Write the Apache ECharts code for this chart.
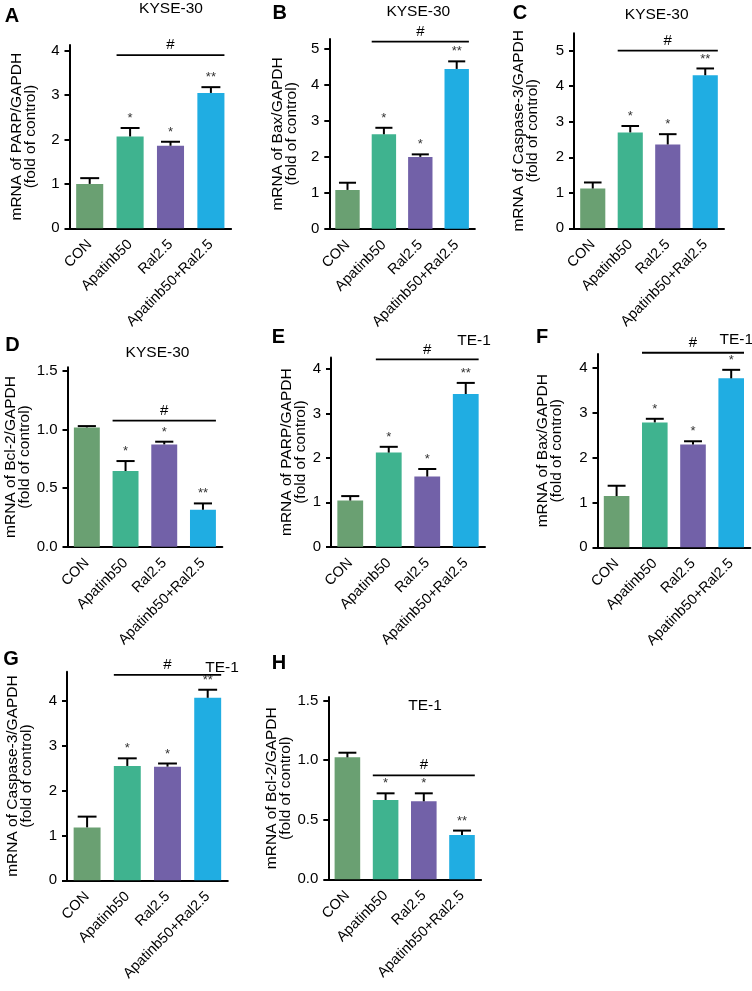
<!DOCTYPE html>
<html>
<head>
<meta charset="utf-8">
<script src="https://cdn.jsdelivr.net/npm/echarts@6/dist/echarts.min.js"></script>
<style>
html,body{margin:0;padding:0;background:#fff;}
#chart{width:752px;height:991px;}
</style>
</head>
<body>
<div id="chart"></div>
<script>
// ---------- DATA ----------
const categories = ['CON', 'Apatinb50', 'Ral2.5', 'Apatinb50+Ral2.5'];

const parpKyse = [1.00, 2.07, 1.86, 3.05];
const parpKyseErr = [0.13, 0.19, 0.09, 0.13];
const baxKyse = [1.08, 2.63, 2.00, 4.45];
const baxKyseErr = [0.20, 0.18, 0.07, 0.21];
const casKyse = [1.12, 2.70, 2.36, 4.31];
const casKyseErr = [0.17, 0.18, 0.29, 0.19];
const bclKyse = [1.017, 0.645, 0.872, 0.315];
const bclKyseErr = [0.011, 0.085, 0.023, 0.054];

const parpTe = [1.04, 2.12, 1.58, 3.44];
const parpTeErr = [0.10, 0.13, 0.17, 0.25];
const baxTe = [1.14, 2.78, 2.29, 3.76];
const baxTeErr = [0.23, 0.08, 0.07, 0.19];
const casTe = [1.18, 2.55, 2.535, 4.07];
const casTeErr = [0.24, 0.17, 0.07, 0.18];
const bclTe = [1.024, 0.666, 0.655, 0.372];
const bclTeErr = [0.039, 0.056, 0.067, 0.037];

const starsDefault = ['', '*', '*', '**'];
const starsF = ['', '*', '*', '*'];

// y level of the "#" comparison bar, per panel (data units)
const hashLevels = [3.90, 5.21, 5.00, 1.074, 4.22, 4.33, 4.58, 0.873];

const yTicksA = [0, 1, 2, 3, 4];
const yTicksB = [0, 1, 2, 3, 4, 5];
const yTicksBcl = [0, 0.5, 1.0, 1.5];

const yNames = [
  'mRNA of PARP/GAPDH\n(fold of control)',
  'mRNA of Bax/GAPDH\n(fold of control)',
  'mRNA of Caspase-3/GAPDH\n(fold of control)',
  'mRNA of Bcl-2/GAPDH\n(fold of control)',
  'mRNA of PARP/GAPDH\n(fold of control)',
  'mRNA of Bax/GAPDH\n(fold of control)',
  'mRNA of Caspase-3/GAPDH\n(fold of control)',
  'mRNA of Bcl-2/GAPDH\n(fold of control)'
];
const panelLetters = ['A', 'B', 'C', 'D', 'E', 'F', 'G', 'H'];
const cellTitles = ['KYSE-30', 'KYSE-30', 'KYSE-30', 'KYSE-30', 'TE-1', 'TE-1', 'TE-1', 'TE-1'];

const values = [parpKyse, baxKyse, casKyse, bclKyse, parpTe, baxTe, casTe, bclTe];
const errors = [parpKyseErr, baxKyseErr, casKyseErr, bclKyseErr, parpTeErr, baxTeErr, casTeErr, bclTeErr];
const stars = [starsDefault, starsDefault, starsDefault, starsDefault, starsDefault, starsF, starsDefault, starsDefault];
const ticks = [yTicksA, yTicksB, yTicksB, yTicksBcl, yTicksA, yTicksA, yTicksA, yTicksBcl];

// ---------- STYLE / LAYOUT ----------
const barColors = ['#6aa072', '#3fb38f', '#7261a8', '#20ade2'];
const FONT = '"Liberation Sans", Arial, Helvetica, sans-serif';
const layout = [
  {left: 69.5, top: 45.0, width: 161.6, height: 183.3, max: 4.13, step: 1, gap: 32, letter: [12, 16.5], title: [171, 8.5]},
  {left: 329.3, top: 39.1, width: 145.6, height: 189.6, max: 5.28, step: 1, gap: 31, letter: [279.7, 13.5], title: [418.3, 11.3]},
  {left: 574, top: 33.3, width: 150, height: 195.0, max: 5.49, step: 1, gap: 34, letter: [520, 13.3], title: [656.7, 15]},
  {left: 67.5, top: 367.2, width: 154.8, height: 179.5, max: 1.53, step: 0.5, gap: 33, letter: [12.5, 345], title: [157.5, 353]},
  {left: 331, top: 357.6, width: 154, height: 189.1, max: 4.26, step: 1, gap: 22, letter: [278.3, 337.2], title: [474, 340.8]},
  {left: 597.5, top: 354.1, width: 152.8, height: 193.2, max: 4.3, step: 1, gap: 34, letter: [542, 337.5], title: [736.3, 340]},
  {left: 67, top: 671.8, width: 160.8, height: 208.5, max: 4.65, step: 1, gap: 33, letter: [11, 659.5], title: [222, 667.5]},
  {left: 328.3, top: 697.1, width: 152.8, height: 182.2, max: 1.53, step: 0.5, gap: 32, letter: [279, 663], title: [425, 706]}
];
const BAR_FRAC = 0.67;

const grids = [], xAxes = [], yAxes = [], series = [], graphics = [];

layout.forEach((L, p) => {
  grids.push({left: L.left, top: L.top, width: L.width, height: L.height, containLabel: false});
  xAxes.push({
    type: 'category', gridIndex: p, data: categories,
    axisLine: {lineStyle: {color: '#000', width: 2}},
    axisTick: {alignWithLabel: true, length: 5, lineStyle: {color: '#000', width: 2}},
    axisLabel: {rotate: 45, interval: 0, fontSize: 14.5, color: '#000', fontFamily: FONT, margin: 14}
  });
  const tv = ticks[p];
  const dec = L.step < 1 ? 1 : 0;
  yAxes.push({
    type: 'value', gridIndex: p, min: 0, max: L.max, interval: L.step,
    name: yNames[p], nameLocation: 'middle', nameGap: L.gap,
    nameTextStyle: {fontSize: 15.5, color: '#000', fontFamily: FONT, lineHeight: 14},
    axisLine: {show: true, lineStyle: {color: '#000', width: 2}},
    axisTick: {show: true, length: 5, lineStyle: {color: '#000', width: 2}, customValues: tv},
    axisLabel: {
      fontSize: 15, color: '#000', fontFamily: FONT, margin: 10, customValues: tv,
      formatter: v => (tv.some(t => Math.abs(t - v) < 1e-9) ? v.toFixed(dec) : '')
    },
    splitLine: {show: false}
  });
  series.push({
    type: 'bar', xAxisIndex: p, yAxisIndex: p, data: values[p], barWidth: (BAR_FRAC * 100) + '%',
    itemStyle: {color: params => barColors[params.dataIndex]},
    silent: true, animation: false
  });
  const errs = errors[p], st = stars[p];
  series.push({
    type: 'custom', xAxisIndex: p, yAxisIndex: p, animation: false, silent: true, clip: false, z: 5,
    data: values[p].map((v, i) => [i, v, errs[i]]),
    renderItem: (params, api) => {
      const i = api.value(0), v = api.value(1), e = api.value(2);
      const base = api.coord([i, v]);
      const top = api.coord([i, v + e]);
      const band = api.size([1, 0])[0];
      const cap = band * BAR_FRAC * 0.7;
      const children = [
        {type: 'line', shape: {x1: base[0], y1: base[1], x2: top[0], y2: top[1]}, style: {stroke: '#000', lineWidth: 2}},
        {type: 'line', shape: {x1: top[0] - cap / 2, y1: top[1], x2: top[0] + cap / 2, y2: top[1]}, style: {stroke: '#000', lineWidth: 2}}
      ];
      const s = st[params.dataIndex];
      if (s) {
        children.push({type: 'text', x: top[0], y: top[1] - 3,
          style: {text: s, fill: '#333', fontSize: 13, fontFamily: FONT, align: 'center', verticalAlign: 'bottom'}});
      }
      return {type: 'group', children};
    }
  });
  series.push({
    type: 'custom', xAxisIndex: p, yAxisIndex: p, animation: false, silent: true, clip: false, z: 5,
    data: [[2, hashLevels[p]]],
    renderItem: (params, api) => {
      const c = api.coord([api.value(0), api.value(1)]);
      const band = api.size([1, 0])[0];
      const x1 = c[0] - band - band * BAR_FRAC / 2;
      const x2 = c[0] + band + band * BAR_FRAC / 2;
      return {type: 'group', children: [
        {type: 'line', shape: {x1: x1, y1: c[1], x2: x2, y2: c[1]}, style: {stroke: '#000', lineWidth: 1.8}},
        {type: 'text', x: (x1 + x2) / 2, y: c[1] - 10,
          style: {text: '#', fill: '#000', fontSize: 15, fontFamily: FONT, align: 'center', verticalAlign: 'middle'}}
      ]};
    }
  });
  graphics.push({type: 'text', x: L.letter[0], y: L.letter[1],
    style: {text: panelLetters[p], fill: '#000', fontSize: 20, fontWeight: 'bold', fontFamily: FONT, align: 'center', verticalAlign: 'middle'}});
  graphics.push({type: 'text', x: L.title[0], y: L.title[1],
    style: {text: cellTitles[p], fill: '#000', fontSize: 15.5, fontFamily: FONT, align: 'center', verticalAlign: 'middle'}});
});

const chart = echarts.init(document.getElementById('chart'), null, {renderer: 'canvas'});
chart.setOption({
  animation: false,
  backgroundColor: '#fff',
  grid: grids, xAxis: xAxes, yAxis: yAxes, series: series, graphic: graphics
});
</script>
</body>
</html>
